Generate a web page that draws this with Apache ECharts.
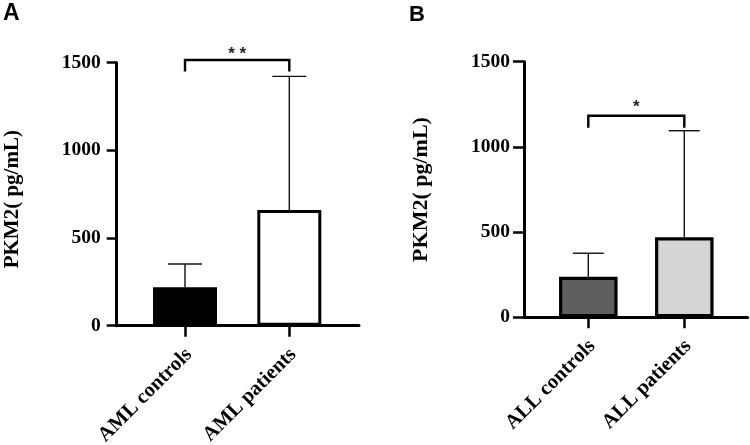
<!DOCTYPE html>
<html><head><meta charset="utf-8">
<script src="https://cdn.jsdelivr.net/npm/echarts@6/dist/echarts.min.js"></script>
<style>html,body{margin:0;padding:0;background:#fff}#c{width:750px;height:445px}</style>
</head><body><div id="c"></div>
<script>
// ---- data ----
const categoriesA = ['AML controls', 'AML patients'];
const meansA = [220, 660];
const errTopsA = [352, 1422];
const sigBracketA = [1515, 1450];   // [bar top, leg bottom]
const sigLabelA = '* *';

const categoriesB = ['ALL controls', 'ALL patients'];
const meansB = [238, 470];
const errTopsB = [376, 1095];
const sigBracketB = [1183, 1113];
const sigLabelB = '*';

const yMin = 0, yMax = 1500, yStep = 500;
const yAxisName = 'PKM2( pg/mL)';
const panelLabels = ['A', 'B'];

// ---- styles ----
const fillsA = ['#000000', '#ffffff'];
const fillsB = ['#5f5f5f', '#d4d4d4'];
const SERIF = "'Liberation Serif','Times New Roman','Noto Sans CJK SC',serif";
const SANS = "'Liberation Sans',Arial,sans-serif";

function panel(gi, cats, means, tops, bracket, sigLabel, fills, g) {
  const grids = [
    {left: g.axisLeft, top: g.top, width: g.axisWidth, height: g.height, outerBoundsMode: 'none', containLabel: false},
    {left: g.barLeft, top: g.top, width: g.barGridWidth, height: g.height, outerBoundsMode: 'none', containLabel: false}
  ];
  const xAxes = [
    {gridIndex: gi, type: 'value', min: 0, max: 1,
     axisLine: {show: true, lineStyle: {color: '#000', width: 3}},
     axisTick: {show: false}, axisLabel: {show: false}, splitLine: {show: false}},
    {gridIndex: gi + 1, type: 'category', data: cats,
     axisLine: {show: false},
     axisTick: {show: true, alignWithLabel: true, length: g.xTickLen, lineStyle: {color: '#000', width: 2.5}},
     axisLabel: {interval: 0, rotate: 45, align: 'right', verticalAlign: 'top', lineHeight: g.xLabelLH,
       margin: g.xLabelMargin, color: '#000', fontFamily: SERIF, fontWeight: 'bold', fontSize: g.xFontSize,
       hideOverlap: false}}
  ];
  const yAxes = [
    {gridIndex: gi, type: 'value', min: yMin, max: yMax, interval: yStep,
     axisLine: {show: true, lineStyle: {color: '#000', width: 3}},
     axisTick: {show: true, length: g.yTickLen, lineStyle: {color: '#000', width: 2.5}},
     axisLabel: {margin: g.yLabelMargin, color: '#000', fontFamily: SERIF, fontWeight: 'bold', fontSize: g.fontSize,
       formatter: v => String(v)},
     splitLine: {show: false},
     name: yAxisName, nameLocation: 'middle', nameGap: g.nameGap,
     nameTextStyle: {color: '#000', fontFamily: SERIF, fontWeight: 'bold', fontSize: g.nameSize, padding: g.namePad}},
    {gridIndex: gi + 1, type: 'value', min: yMin, max: yMax, show: false}
  ];
  const series = [
    {type: 'bar', xAxisIndex: gi + 1, yAxisIndex: gi + 1, barWidth: g.barW,
     data: means.map((v, i) => ({value: v, itemStyle: {color: fills[i], borderColor: '#000', borderWidth: g.border}})),
     silent: true, z: 2},
    {type: 'custom', xAxisIndex: gi + 1, yAxisIndex: gi + 1, clip: false, z: 3, silent: true,
     encode: {x: 0, y: [1, 2]},
     data: means.map((m, i) => [i, m, tops[i]]),
     renderItem(params, api) {
       const p0 = api.coord([api.value(0), api.value(1)]);
       const p1 = api.coord([api.value(0), api.value(2)]);
       const st = {stroke: '#111', lineWidth: 1.4};
       return {type: 'group', children: [
         {type: 'line', shape: {x1: p0[0], y1: p0[1], x2: p1[0], y2: p1[1]}, style: st},
         {type: 'line', shape: {x1: p1[0] - g.cap, y1: p1[1], x2: p1[0] + g.cap, y2: p1[1]}, style: st}
       ]};
     }},
    {type: 'custom', xAxisIndex: gi + 1, yAxisIndex: gi + 1, clip: false, z: 4, silent: true,
     encode: {x: [0, 1], y: [2, 3]},
     data: [[0, 1, bracket[0], bracket[1]]],
     renderItem(params, api) {
       const a = api.coord([api.value(0), api.value(2)]);
       const b = api.coord([api.value(1), api.value(2)]);
       const al = api.coord([api.value(0), api.value(3)]);
       const bl = api.coord([api.value(1), api.value(3)]);
       return {type: 'group', children: [
         {type: 'polyline', shape: {points: [al, a, b, bl]}, style: {stroke: '#000', lineWidth: 2.4, fill: 'none'}},
         {type: 'text', x: (a[0] + b[0]) / 2, y: a[1] - g.starOff,
          style: {text: sigLabel, fill: '#222', font: 'bold ' + g.starSize + 'px ' + SANS, align: 'center', verticalAlign: 'middle'}}
       ]};
     }}
  ];
  return {grids, xAxes, yAxes, series};
}

const A = panel(0, categoriesA, meansA, errTopsA, sigBracketA, sigLabelA, fillsA, {
  axisLeft: 116.7, axisWidth: 242.3, top: 62.7, height: 263,
  barLeft: 132.85, barGridWidth: 208.6, barW: 64, border: 3, cap: 17,
  xTickLen: 11, yTickLen: 10, yLabelMargin: 16, xLabelMargin: 22, xLabelLH: 11,
  fontSize: 19.5, xFontSize: 20.5, nameSize: 21, nameGap: 94, namePad: [0, 10, 0, 0], starOff: 6, starSize: 17
});
const B = panel(2, categoriesB, meansB, errTopsB, sigBracketB, sigLabelB, fillsB, {
  axisLeft: 524, axisWidth: 223.7, top: 61.7, height: 255.6,
  barLeft: 540.3, barGridWidth: 192, barW: 58.5, border: 3.2, cap: 15.5,
  xTickLen: 11, yTickLen: 11, yLabelMargin: 14, xLabelMargin: 22, xLabelLH: 11,
  fontSize: 19.5, xFontSize: 20.5, nameSize: 22, nameGap: 92, namePad: 0, starOff: 8, starSize: 17
});

const option = {
  animation: false,
  backgroundColor: '#fff',
  title: [
    {text: panelLabels[0], left: 3, top: 2, padding: 0, textStyle: {fontFamily: SANS, fontWeight: 'bold', fontSize: 23, color: '#000'}},
    {text: panelLabels[1], left: 409, top: 4, padding: 0, textStyle: {fontFamily: SANS, fontWeight: 'bold', fontSize: 22, color: '#000'}}
  ],
  grid: [...A.grids, ...B.grids],
  xAxis: [...A.xAxes, ...B.xAxes],
  yAxis: [...A.yAxes, ...B.yAxes],
  series: [...A.series, ...B.series]
};
const chart = echarts.init(document.getElementById('c'), null, {renderer: 'canvas'});
chart.setOption(option);
</script></body></html>
